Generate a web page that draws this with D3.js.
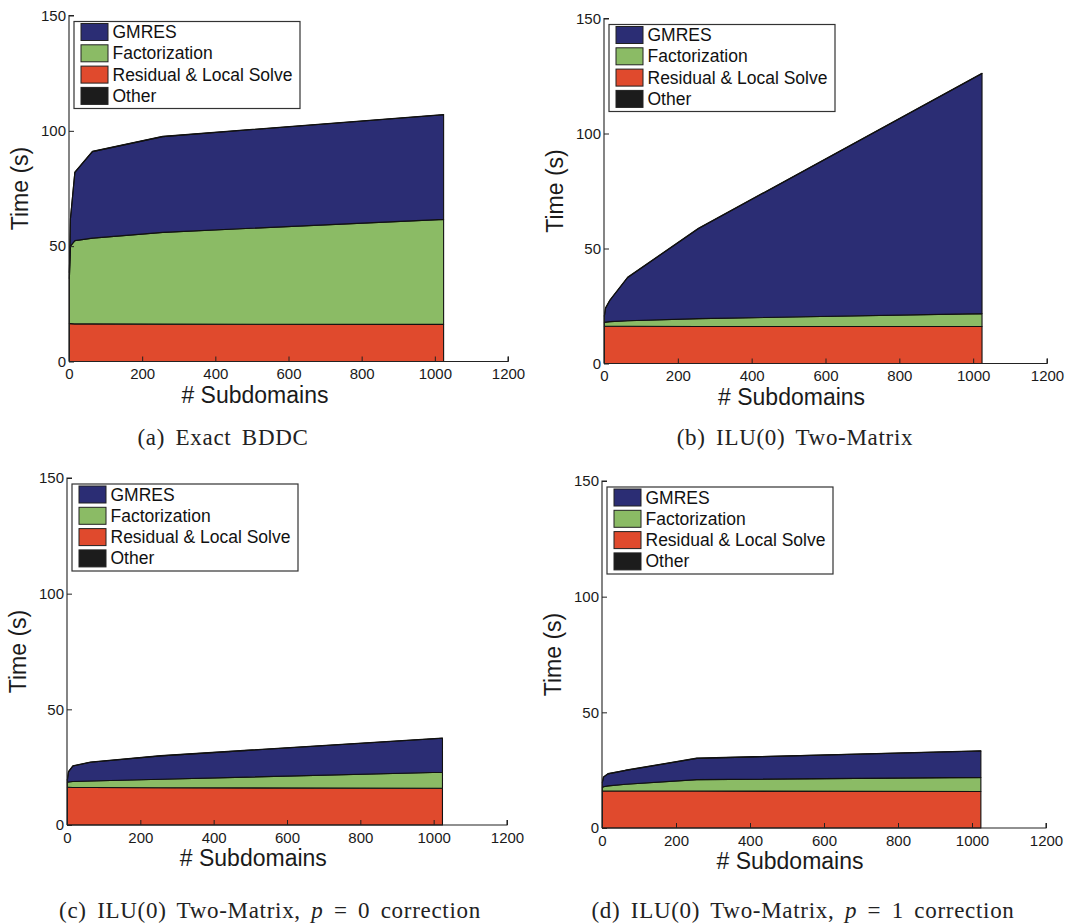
<!DOCTYPE html>
<html>
<head>
<meta charset="utf-8">
<script src="https://cdn.jsdelivr.net/npm/d3@7"></script>
<style>
  html, body { margin: 0; padding: 0; background: #fff; }
  svg { display: block; }
  .sans { font-family: "Liberation Sans", Arial, Helvetica, sans-serif; }
  .serif { font-family: "Liberation Serif", "DejaVu Serif", serif; }
</style>
</head>
<body>
<svg id="fig" width="1068" height="923"></svg>
<script>
// Number of subdomains at which the timings were taken
const subdomains = [1, 4, 16, 64, 256, 1024];

// Series names (legend order) and fill colours
const seriesNames = ["GMRES", "Factorization", "Residual & Local Solve", "Other"];
const seriesColors = ["#2b2d74", "#8bbb65", "#e04a2d", "#1c1c1c"];

// Axis ticks
const xTicks = [0, 200, 400, 600, 800, 1000, 1200];
const yTicks = [0, 50, 100, 150];

// Sub-figure captions
const captions = [
  ["(a) Exact BDDC"],
  ["(b) ILU(0) Two-Matrix"],
  ["(c) ILU(0) Two-Matrix, ", "p", " = 0 correction"],
  ["(d) ILU(0) Two-Matrix, ", "p", " = 1 correction"]
];

// Time (s) per component, per solver configuration
const exactResidual = [16.4, 16.4, 16.3, 16.3, 16.2, 16.1];
const exactFactor   = [19.6, 33.6, 36.1, 37.2, 39.8, 45.5];
const exactGmres    = [2.5, 12.0, 29.6, 37.5, 41.5, 45.4];
const exactOther    = [0.1, 0.1, 0.1, 0.1, 0.1, 0.1];

const iluResidual = [16.2, 16.2, 16.2, 16.2, 16.1, 16.1];
const iluFactor   = [1.6, 1.8, 2.0, 2.4, 3.4, 5.6];
const iluGmres    = [2.8, 6.0, 9.3, 18.8, 39.2, 104.4];
const iluOther    = [0.1, 0.1, 0.1, 0.1, 0.1, 0.1];

const p0Residual = [16.3, 16.3, 16.2, 16.2, 16.1, 15.9];
const p0Factor   = [2.2, 2.3, 2.6, 2.8, 3.7, 6.9];
const p0Gmres    = [1.0, 4.4, 6.7, 8.1, 10.1, 14.7];
const p0Other    = [0.1, 0.1, 0.1, 0.1, 0.1, 0.1];

const p1Residual = [16.0, 16.0, 16.0, 16.0, 16.0, 15.8];
const p1Factor   = [1.5, 1.8, 2.2, 2.9, 4.9, 6.1];
const p1Gmres    = [2.2, 4.2, 5.2, 6.0, 9.2, 11.4];
const p1Other    = [0.1, 0.1, 0.1, 0.1, 0.1, 0.1];

const panelSeries = [
  [exactResidual, exactFactor, exactGmres, exactOther],
  [iluResidual, iluFactor, iluGmres, iluOther],
  [p0Residual, p0Factor, p0Gmres, p0Other],
  [p1Residual, p1Factor, p1Gmres, p1Other]
];

// Plot-area placement of each sub-figure: [left, right, bottom, top, caption centre x, caption baseline]
const frames = [
  [69, 508, 361.5, 15.5, 223, 445],
  [604, 1047, 363.5, 18.5, 795, 445],
  [67, 507, 825, 478, 270, 918],
  [602, 1046, 828, 481, 803, 918]
];

const svg = d3.select("#fig");
const stackKeys = ["residual", "factor", "gmres", "other"];
// legend entry -> stack key
const legendKeys = ["gmres", "factor", "residual", "other"];
const colorOf = {gmres: seriesColors[0], factor: seriesColors[1], residual: seriesColors[2], other: seriesColors[3]};

frames.forEach((f, i) => {
  const [left, right, bottom, top, capX, capY] = f;
  const x = d3.scaleLinear().domain([0, 1200]).range([left, right]);
  const y = d3.scaleLinear().domain([0, 150]).range([bottom, top]);
  const g = svg.append("g");

  const rows = subdomains.map((n, j) => {
    const r = {n};
    stackKeys.forEach((k, s) => r[k] = panelSeries[i][s][j]);
    return r;
  });
  const layers = d3.stack().keys(stackKeys)(rows);
  const area = d3.area()
    .x(d => x(d.data.n))
    .y0(d => y(d[0]))
    .y1(d => y(d[1]));

  g.selectAll("path.layer").data(layers).join("path")
    .attr("class", "layer")
    .attr("d", area)
    .attr("fill", d => colorOf[d.key])
    .attr("stroke", "#111")
    .attr("stroke-width", 1.1)
    .attr("stroke-linejoin", "round");

  // axes with inward ticks
  const xAxis = d3.axisBottom(x).tickValues(xTicks).tickSize(-5).tickPadding(7).tickFormat(d3.format("d"));
  const yAxis = d3.axisLeft(y).tickValues(yTicks).tickSize(-5).tickPadding(3).tickFormat(d3.format("d"));

  const gx = g.append("g").attr("transform", `translate(0,${bottom})`).call(xAxis);
  const gy = g.append("g").attr("transform", `translate(${left},0)`).call(yAxis);
  [gx, gy].forEach(a => {
    a.select(".domain").attr("stroke", "#222").attr("stroke-width", 1.1);
    a.selectAll(".tick line").attr("stroke", "#222").attr("stroke-width", 1);
    a.selectAll(".tick text")
      .attr("class", "sans")
      .attr("font-size", 15)
      .attr("fill", "#1a1a1a");
  });
  gx.select(".domain").attr("d", `M${left},0H${right}V-5`);
  gy.select(".domain").attr("d", `M5,${top}H0V${bottom}`);

  // axis titles
  g.append("text").attr("class", "sans")
    .attr("x", (x(0) + x(1000)) / 2 + 3).attr("y", bottom + 41)
    .attr("text-anchor", "middle").attr("font-size", 23).attr("fill", "#1a1a1a")
    .text("# Subdomains");
  g.append("text").attr("class", "sans")
    .attr("transform", `translate(${left - 41},${(top + bottom) / 2}) rotate(-90)`)
    .attr("text-anchor", "middle").attr("font-size", 23).attr("fill", "#1a1a1a")
    .text("Time (s)");

  // legend
  const lx = left + 5, ly = top + 6, lw = 226, lh = 87;
  const lg = g.append("g").attr("transform", `translate(${lx},${ly})`);
  lg.append("rect").attr("width", lw).attr("height", lh)
    .attr("fill", "#fff").attr("stroke", "#333").attr("stroke-width", 1.2);
  legendKeys.forEach((k, r) => {
    const cy = 10.5 + r * 21.3;
    lg.append("rect").attr("x", 7).attr("y", cy - 8.5).attr("width", 27).attr("height", 17)
      .attr("fill", colorOf[k]).attr("stroke", "#222").attr("stroke-width", 1);
    lg.append("text").attr("class", "sans")
      .attr("x", 38.5).attr("y", cy + 6)
      .attr("font-size", 17.5).attr("fill", "#111")
      .text(seriesNames[r]);
  });

  // caption
  const cap = svg.append("text").attr("class", "serif")
    .attr("x", capX).attr("y", capY)
    .attr("text-anchor", "middle").attr("font-size", 23).attr("fill", "#222")
    .attr("letter-spacing", 0.7).attr("word-spacing", 4);
  captions[i].forEach((part, pi) => {
    const t = cap.append("tspan").text(part);
    if (pi === 1) t.attr("font-style", "italic");
  });
});
</script>
</body>
</html>
